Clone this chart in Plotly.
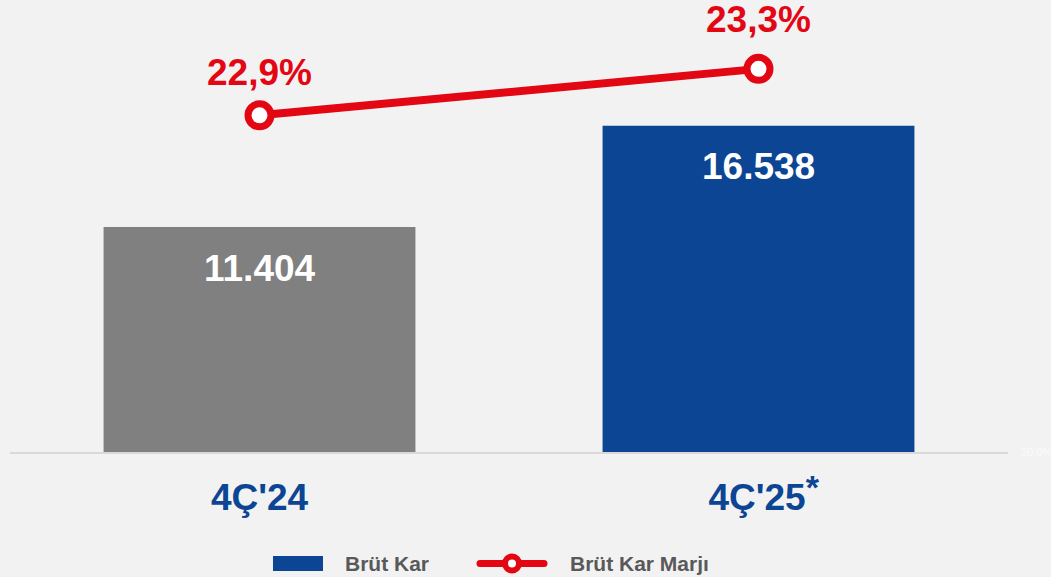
import plotly.graph_objects as go

categories = ["4Ç'24", "4Ç'25"]
tick_labels = ["4Ç'24", "&nbsp;4Ç'25<span style='font-size:27px'><sup><span style='font-size:34px'>*</span></sup></span>"]
gross_profit = [11404, 16538]
gross_margin = [22.9, 23.3]
bar_colors = ["#808080", "#0c4594"]
margin_label_shift = [43, 49]

RED = "#e30613"
BLUE = "#0c4594"
FONT = "Liberation Sans, Arial, sans-serif"

def fmt_int(v):
    return f"{v:,}".replace(",", ".")

def fmt_pct(v):
    return f"{v:.1f}%".replace(".", ",")

fig = go.Figure()
fig.add_trace(go.Bar(
    x=categories, y=gross_profit, marker=dict(color=bar_colors, line=dict(width=0)),
    width=0.625, name="Brüt Kar", showlegend=False, hoverinfo="skip",
))
fig.add_trace(go.Scatter(
    x=categories, y=gross_margin, yaxis="y2", mode="lines+markers",
    line=dict(color=RED, width=8),
    marker=dict(size=23, color="white", line=dict(color=RED, width=7)),
    name="Brüt Kar Marjı", showlegend=False, hoverinfo="skip",
))

annotations = []
for c, v in zip(categories, gross_profit):
    annotations.append(dict(x=c, y=v, xref="x", yref="y", text=f"<b>{fmt_int(v)}</b>",
                            showarrow=False, yshift=-41,
                            font=dict(family=FONT, size=37, color="white")))
for c, v, s in zip(categories, gross_margin, margin_label_shift):
    annotations.append(dict(x=c, y=v, xref="x", yref="y2", text=f"<b>{fmt_pct(v)}</b>",
                            showarrow=False, yshift=s,
                            font=dict(family=FONT, size=37, color=RED)))

W, H = 1051, 577
ml, mr, mt, mb = 10, 43, 10, 125
pw, ph = W - ml - mr, H - mt - mb

def px2paper_x(px):
    return (px - ml) / pw

def px2paper_y(py):
    return (H - mb - py) / ph

# manual legend
for lx, txt in [(343, "Brüt Kar"), (568, "Brüt Kar Marjı")]:
    annotations.append(dict(x=px2paper_x(lx), y=px2paper_y(563), xref="paper", yref="paper",
                            text=f"<b>{txt}</b>", showarrow=False,
                            xanchor="left", yanchor="middle",
                            font=dict(family=FONT, size=21, color="#595959")))

shapes = [
    dict(type="rect", xref="paper", yref="paper",
         x0=px2paper_x(273), x1=px2paper_x(323), y0=px2paper_y(571), y1=px2paper_y(556),
         fillcolor=BLUE, line=dict(width=0)),
    dict(type="rect", xref="paper", yref="paper",
         x0=px2paper_x(480), x1=px2paper_x(544), y0=px2paper_y(567), y1=px2paper_y(560),
         fillcolor=RED, line=dict(width=0)),
    dict(type="circle", xref="paper", yref="paper",
         x0=px2paper_x(476.5), x1=px2paper_x(483.5), y0=px2paper_y(567), y1=px2paper_y(560),
         fillcolor=RED, line=dict(width=0)),
    dict(type="circle", xref="paper", yref="paper",
         x0=px2paper_x(540.5), x1=px2paper_x(547.5), y0=px2paper_y(567), y1=px2paper_y(560),
         fillcolor=RED, line=dict(width=0)),
    dict(type="circle", xref="paper", yref="paper",
         x0=px2paper_x(505), x1=px2paper_x(519), y0=px2paper_y(570.5), y1=px2paper_y(556.5),
         fillcolor="white", line=dict(color=RED, width=6)),
]

fig.update_layout(
    width=W, height=H,
    margin=dict(l=ml, r=mr, t=mt, b=mb, autoexpand=False),
    paper_bgcolor="#f2f2f2", plot_bgcolor="#f2f2f2",
    showlegend=False,
    font=dict(family=FONT),
    xaxis=dict(
        type="category", range=[-0.5, 1.5], automargin=False,
        tickvals=categories, ticktext=[f"<b>{t}</b>" for t in tick_labels],
        tickfont=dict(family=FONT, size=37, color=BLUE),
        showline=True, linecolor="#d9d9d9", linewidth=2,
        showgrid=False, ticks="", ticklabelstandoff=12,
    ),
    yaxis=dict(range=[0, 22409], showticklabels=False, showgrid=False,
               zeroline=False, showline=False, automargin=False),
    yaxis2=dict(range=[20, 23.807], overlaying="y", side="right", automargin=False,
                tickvals=[20], ticktext=["20,0%"], showgrid=False, zeroline=False,
                showline=False, ticks="", ticklabelstandoff=12,
                tickfont=dict(family=FONT, size=11, color="#fbfbfb")),
    annotations=annotations,
    shapes=shapes,
)

fig.write_html("out.html", config={"displayModeBar": False},
               post_script="document.body.style.margin='0';document.body.style.background='#f2f2f2';")
